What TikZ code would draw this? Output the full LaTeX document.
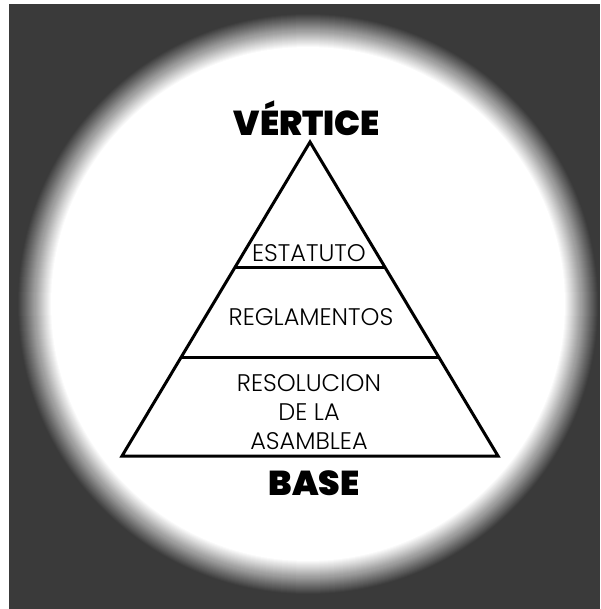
\documentclass[tikz,border=0pt]{standalone}
\usepackage{fontspec}
\usetikzlibrary{calc}
\newfontfamily\heavyfont{Poppins Black}
\newfontfamily\thinfont{Poppins Light}
\definecolor{VigDark}{HTML}{3A3A3A}

\begin{document}
\begin{tikzpicture}[
    x=1pt, y=-1pt,
    level/.style={line width=3pt, black},
    title/.style={font=\heavyfont\fontsize{34.5}{34}\selectfont, anchor=base, inner sep=0pt},
    layer/.style={font=\thinfont\fontsize{24}{29}\selectfont, align=center, inner sep=0pt}
 ]
\useasboundingbox (0,0) rectangle (600,609);
\def\cx{308}
\def\cy{304}
\def\rIn{257}
\def\rOut{291}

% background and soft spot
\fill[white] (0,0) rectangle (600,609);
\fill[VigDark] (9,4) rectangle (600,609);
\foreach \i in {0,...,34} {
    \pgfmathtruncatemacro\pct{\i*100/34}
    \pgfmathsetmacro\rad{\rOut-\i}
    \fill[white!\pct!VigDark] (\cx,\cy) circle[radius=\rad pt];
}

% pyramid
\coordinate (apex) at (310,142);
\coordinate (baseL) at (122,456);
\coordinate (baseR) at (498,456);
\coordinate (oneL) at ($(apex)!0.401!(baseL)$);
\coordinate (oneR) at ($(apex)!0.401!(baseR)$);
\coordinate (twoL) at ($(apex)!0.685!(baseL)$);
\coordinate (twoR) at ($(apex)!0.685!(baseR)$);

\draw[level, line join=miter] (apex) -- (baseR) -- (baseL) -- cycle;
\draw[level] (oneL) -- (oneR);
\draw[level] (twoL) -- (twoR);

\node[title] (vertice) at (307,136) {VÉRTICE};
\node[title] (base) at (314,495) {BASE};
\node[layer, anchor=base] (estatuto) at (309,261) {ESTATUTO};
\node[layer, anchor=base] (reglamentos) at (311,325) {REGLAMENTOS};
\node[layer] (resolucion) at (309,412) {RESOLUCION\\DE LA\\ASAMBLEA};

\end{tikzpicture}
\end{document}
